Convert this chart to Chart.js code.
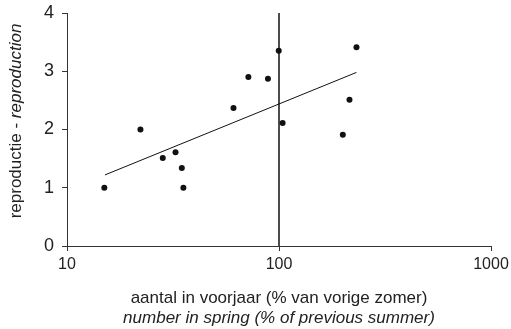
<!DOCTYPE html>
<html>
<head>
<meta charset="utf-8">
<script src="https://cdn.jsdelivr.net/npm/chart.js@4/dist/chart.umd.min.js"></script>
<style>
  html, body { margin: 0; padding: 0; background: #fff; }
  #wrap { width: 511px; height: 329px; }
</style>
</head>
<body>
<div id="wrap"><canvas id="chart"></canvas></div>
<script>
// aantal in voorjaar (% van vorige zomer) vs reproductie
const springCount = [15, 22.2, 28.3, 32.5, 34.8, 35.4, 61, 71.7, 88.7, 99.7, 104, 200, 215, 232];
const reproduction = [1.0, 2.0, 1.51, 1.61, 1.34, 1.0, 2.37, 2.90, 2.87, 3.35, 2.11, 1.91, 2.51, 3.41];

// trend line end points
const trendX = [15.1, 232];
const trendY = [1.22, 2.98];

// vertical reference at 100%
const refX = [100, 100];
const refY = [0, 4];

const xTicks = [10, 100, 1000];
const yTicks = [0, 1, 2, 3, 4];

const xTitle = ['aantal in voorjaar (% van vorige zomer)', 'number in spring (% of previous summer)'];
const yTitle = ['reproductie - ', 'reproduction'];

const ink = '#222';
const fontFamily = '"Liberation Sans", Arial, Helvetica, sans-serif';
const titleSize = 17;

const toPoints = (xs, ys) => xs.map((x, i) => ({ x: x, y: ys[i] }));

// axis titles with mixed upright / italic text
const titlesPlugin = {
    id: 'titles',
    afterDraw(chart) {
        const ctx = chart.ctx;
        const area = chart.chartArea;
        ctx.save();
        ctx.fillStyle = ink;
        ctx.textBaseline = 'middle';
        ctx.textAlign = 'center';
        const cx = (area.left + area.right) / 2;
        ctx.font = titleSize + 'px ' + fontFamily;
        ctx.fillText(xTitle[0], cx, 298);
        ctx.font = 'italic ' + titleSize + 'px ' + fontFamily;
        ctx.fillText(xTitle[1], cx, 318);

        // rotated y title
        ctx.translate(16, 121);
        ctx.rotate(-Math.PI / 2);
        ctx.font = titleSize + 'px ' + fontFamily;
        const w1 = ctx.measureText(yTitle[0]).width;
        ctx.font = 'italic ' + titleSize + 'px ' + fontFamily;
        const w2 = ctx.measureText(yTitle[1]).width;
        let start = -(w1 + w2) / 2;
        ctx.textAlign = 'left';
        ctx.font = titleSize + 'px ' + fontFamily;
        ctx.fillText(yTitle[0], start, 0);
        ctx.font = 'italic ' + titleSize + 'px ' + fontFamily;
        ctx.fillText(yTitle[1], start + w1, 0);
        ctx.restore();
    }
};

new Chart(document.getElementById('chart').getContext('2d'), {
    type: 'scatter',
    data: {
        datasets: [
            {
                label: 'reference',
                data: toPoints(refX, refY),
                showLine: true,
                borderColor: '#111',
                borderWidth: 1.5,
                pointRadius: 0
            },
            {
                label: 'trend',
                data: toPoints(trendX, trendY),
                showLine: true,
                borderColor: '#111',
                borderWidth: 1,
                pointRadius: 0
            },
            {
                label: 'reproductie',
                data: toPoints(springCount, reproduction),
                backgroundColor: '#111',
                borderColor: '#111',
                pointRadius: 3,
                pointBorderWidth: 0
            }
        ]
    },
    options: {
        responsive: true,
        maintainAspectRatio: false,
        animation: false,
        layout: { padding: { top: 13, right: 20, left: 0, bottom: 0 } },
        plugins: {
            legend: { display: false },
            tooltip: { enabled: false }
        },
        scales: {
            x: {
                type: 'logarithmic',
                min: 10,
                max: 1000,
                afterBuildTicks: axis => { axis.ticks = xTicks.map(v => ({ value: v })); },
                afterFit: axis => { axis.height = 83; axis.paddingLeft = 0; axis.paddingRight = 0; },
                ticks: {
                    color: ink,
                    font: { family: fontFamily, size: 16 },
                    padding: 4,
                    maxRotation: 0,
                    callback: v => String(v)
                },
                grid: { drawOnChartArea: false, drawTicks: true, tickLength: 5, color: '#333', lineWidth: 1 },
                border: { display: true, color: '#333', width: 1 }
            },
            y: {
                min: 0,
                max: 4,
                afterBuildTicks: axis => { axis.ticks = yTicks.map(v => ({ value: v })); },
                afterFit: axis => { axis.width = 67; axis.paddingTop = 0; axis.paddingBottom = 0; },
                ticks: {
                    color: ink,
                    font: { family: fontFamily, size: 18 },
                    padding: 8
                },
                grid: { drawOnChartArea: false, drawTicks: true, tickLength: 5, color: '#333', lineWidth: 1 },
                border: { display: true, color: '#333', width: 1 }
            }
        }
    },
    plugins: [titlesPlugin]
});
</script>
</body>
</html>
